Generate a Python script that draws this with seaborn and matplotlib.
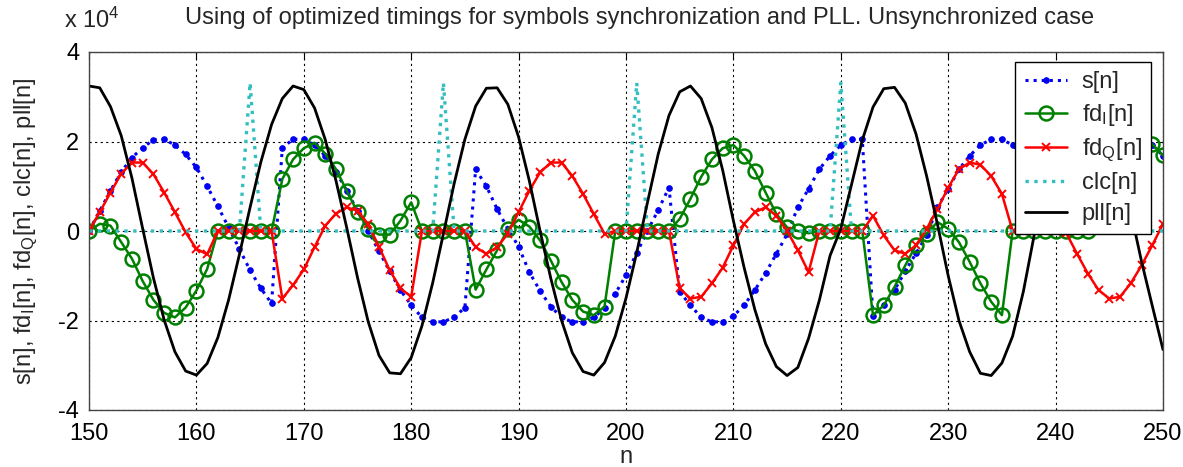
from matplotlib import pyplot as plt
from matplotlib.ticker import FuncFormatter
import pandas as pd
import seaborn as sns

# sample index
n = list(range(150, 251))

# s[n]  (blue, dotted with dots)
s = [0, 4500, 9000, 13200, 16400, 18600, 20400, 20500, 19200, 17100,
     14200, 10000, 5500, 800, -4000, -8800, -12800, -16200, 18600, 20500,
     20500, 19200, 16800, 13200, 9000, 4500, 0, -4500, -9000, -13200,
     -16600, -19300, -20300, -20300, -19300, -17100, 13800, 10000, 4900, 500,
     -3500, -9200, -13400, -16900, -19300, -20300, -20300, -19300, -17300, -14000,
     -9900, -4900, 0, 4700, 9700, -13600, -16600, -19300, -20300, -20300,
     -19000, -16600, -13200, -9400, -5100, -700, 5300, 9400, 13800, 16800,
     19200, 20500, 20500, -19100, -16600, -13200, -9000, -5000, -1000, 5300,
     9400, 13800, 16800, 19200, 20500, 20500, 19200, 16800, 13200, 9000,
     5000, 1500, 5000, 9000, 13000, 16500, 19000, 20500, 20500, 19200,
     16800]

# fd_I[n]  (green, circles)
fd_i = [0, 1600, 1200, -2500, -6200, -11200, -15400, -18300, -19300, -17100,
        -13300, -8500, 0, 0, 0, 0, 0, 0, 11600, 16000,
        18500, 19700, 17300, 13800, 9000, 4200, 500, -800, -800, 2300,
        6400, 0, 0, 0, 0, 0, -13100, -8600, -4300, 500,
        2500, 1000, -2100, -6600, -11400, -15400, -18000, -18800, -16900, 0,
        0, 0, 0, 0, 0, 2700, 7200, 12100, 16000, 18500,
        19200, 16800, 13400, 8600, 3800, 800, 0, -500, 0, 0,
        0, 0, 0, -18800, -16600, -12500, -7700, -3200, -600, 2000,
        500, -2500, -6900, -11700, -15800, -18800, 0, 0, 0, 0,
        0, 0, 0, 0, 2700, 7200, 12100, 16000, 18500, 19400,
        16900]

# fd_Q[n]  (red, crosses)
fd_q = [0, 4200, 8600, 12800, 15300, 15300, 12700, 8600, 4200, -300,
        -4000, -5200, 0, 0, 0, 0, 0, 0, -15100, -12100,
        -8600, -3600, 1200, 3900, 5300, 4500, 1500, -3500, -8800, -12800,
        -14700, 0, 0, 0, 0, 0, -3600, -5100, -3600, -600,
        4200, 9000, 13100, 15300, 15300, 12300, 8300, 3800, -600, 0,
        0, 0, 0, 0, 0, -12800, -15100, -14700, -11700, -8200,
        -3200, 1600, 4200, 5300, 3400, 0, -4300, -9200, 0, 0,
        0, 0, 0, 3400, -1000, -4300, -5100, -3200, 500, 4900,
        9700, 13800, 15300, 14800, 12300, 8300, 0, 0, 0, 0,
        0, -500, -5100, -9500, -13200, -15100, -14700, -11700, -7700, -3200,
        1600]

# clc[n]  (cyan, dotted)
clc = [0, 0, 0, 0, 0, 0, 0, 0, 0, 0,
       0, 0, 0, 0, 0, 33100, 0, 0, 0, 0,
       0, 0, 0, 0, 0, 0, 0, 0, 0, 0,
       0, 0, 0, 33100, 0, 0, 0, 0, 0, 0,
       0, 0, 0, 0, 0, 0, 0, 0, 0, 0,
       0, 33100, 0, 0, 0, 0, 0, 0, 0, 0,
       0, 0, 0, 0, 0, 0, 0, 0, 0, 0,
       33100, 0, 0, 0, 0, 0, 0, 0, 0, 0,
       0, 0, 0, 0, 0, 0, 0, 0, 0, 0,
       0, 0, 0, 0, 0, 0, 0, 0, 0, 0,
       0]

# pll[n]  (black)
pll = [32400, 32000, 27800, 21300, 11800, 500, -10500, -19900, -27000, -31300,
       -32200, -29600, -23800, -15400, -5300, 5300, 15400, 23800, 29600, 32400,
       31600, 27500, 20400, 11200, 700, -10400, -20300, -27800, -31700, -31900,
       -28300, -21200, -11600, -600, 10600, 20500, 27900, 31900, 32000, 28300,
       21000, 11200, 0, -10600, -20000, -27200, -31400, -32200, -29400, -23500,
       -15000, -4800, 6400, 17200, 25800, 31100, 32400, 29600, 23100, 13600,
       2300, -8200, -17600, -25200, -30300, -32300, -30500, -24000, -15500, -5500,
       500, 10400, 20300, 27700, 31800, 32100, 28600, 21700, 12200, 1500,
       -10000, -20000, -27000, -31800, -32300, -29500, -23500, -13500, -1000, 10500,
       20800, 27800, 31800, 32300, 29300, 23200, 14500, 4300, -6800, -16700,
       -26500]

df = pd.DataFrame({'n': n, 's': s, 'fd_i': fd_i, 'fd_q': fd_q, 'clc': clc, 'pll': pll})

sns.set_style("white")
plt.rcParams['font.family'] = ['Liberation Sans', 'DejaVu Sans']
plt.rcParams['mathtext.fontset'] = 'custom'
plt.rcParams['mathtext.rm'] = 'Liberation Sans'
plt.rcParams['mathtext.it'] = 'Liberation Sans'

FS = 17

fig = plt.figure(figsize=(11.83, 4.67), dpi=100)
ax = fig.add_axes([89 / 1183, 1 - 410 / 467, (1163 - 89) / 1183, (410 - 52) / 467])

sns.lineplot(data=df, x='n', y='s', ax=ax, color=(0, 0, 0.95), linestyle=':', linewidth=2.2,
             marker='o', markersize=4, markeredgecolor=(0, 0, 0.95), markerfacecolor=(0, 0, 0.95),
             label='s[n]')
sns.lineplot(data=df, x='n', y='fd_i', ax=ax, color=(0, 0.5, 0), linewidth=1.8,
             marker='o', markersize=10, markerfacecolor='none', markeredgecolor=(0, 0.5, 0),
             markeredgewidth=1.8, label=r'fd$_\mathrm{I}$[n]')
sns.lineplot(data=df, x='n', y='fd_q', ax=ax, color=(1, 0, 0), linewidth=1.8,
             marker='x', markersize=6, markeredgecolor=(1, 0, 0), markeredgewidth=1.4,
             label=r'fd$_\mathrm{Q}$[n]')
sns.lineplot(data=df, x='n', y='clc', ax=ax, color=(0.2, 0.75, 0.75), linestyle=':', linewidth=2.4,
             label='clc[n]')
sns.lineplot(data=df, x='n', y='pll', ax=ax, color='black', linewidth=2.0, label='pll[n]')

ax.set_xlim(150, 250)
ax.set_ylim(-40000, 40000)
ax.set_xticks(range(150, 251, 10))
ax.set_yticks([-40000, -20000, 0, 20000, 40000])
ax.yaxis.set_major_formatter(FuncFormatter(lambda v, p: f"{v / 1e4:g}"))

ax.grid(True, color='black', linestyle=(0, (2, 3)), linewidth=0.8)
ax.tick_params(direction='in', top=True, right=True, length=5, labelsize=FS, colors='black')
ax.tick_params(axis='x', pad=9)
ax.tick_params(axis='y', pad=7)
for lbl in ax.get_yticklabels():
    lbl.set_verticalalignment('center_baseline')
for sp in ax.spines.values():
    sp.set_color('#444444')
    sp.set_linewidth(1.0)

ax.set_xlabel('n', fontsize=FS)
ax.xaxis.set_label_coords(0.5, -0.1)
ax.set_ylabel(r's[n], fd$_\mathrm{I}$[n], fd$_\mathrm{Q}$[n], clc[n], pll[n]', fontsize=FS)
ax.yaxis.set_label_coords(-0.046, 0.5)
fig.text(640 / 1183, 1 - 18 / 467,
         'Using of optimized timings for symbols synchronization and PLL. Unsynchronized case',
         fontsize=FS, ha='center', va='center')
fig.text(64 / 1183, 1 - 28 / 467, r'x 10$^\mathrm{4}$', fontsize=FS, va='baseline')

leg = ax.legend(loc='upper right', bbox_to_anchor=(1 - 12 / 1074, 1 - 10 / 358), fontsize=FS,
                frameon=True, fancybox=False, edgecolor='black', framealpha=1, numpoints=1,
                handlelength=1.8, handletextpad=0.6, labelspacing=0.36, borderpad=0.4,
                borderaxespad=0)
leg.get_frame().set_linewidth(1.0)

fig.savefig('out.png', dpi=100)
